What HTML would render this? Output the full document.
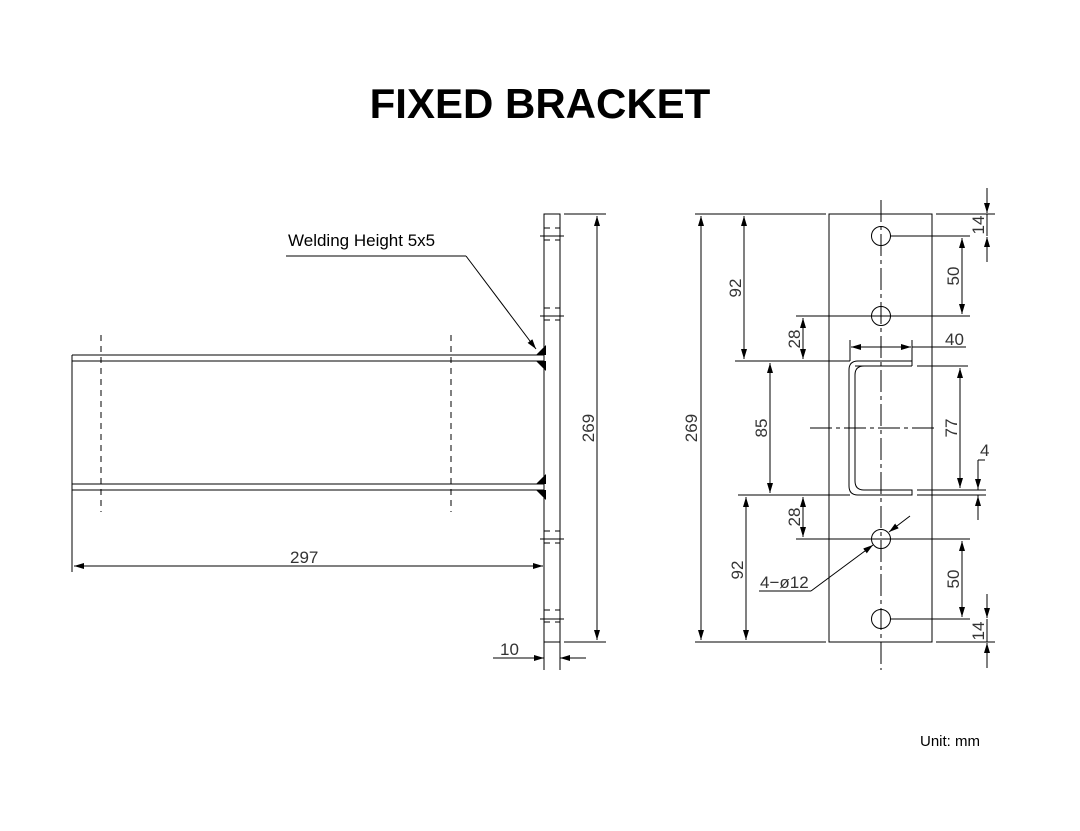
<!DOCTYPE html>
<html><head><style>
body{margin:0;background:#fff;width:1080px;height:831px;overflow:hidden}
svg{display:block}
</style></head><body>
<svg width="1080" height="831" viewBox="0 0 1080 831" xmlns="http://www.w3.org/2000/svg">
<defs>
<marker id="a" viewBox="0 0 10 6" refX="10" refY="3" markerWidth="10" markerHeight="6" orient="auto-start-reverse" markerUnits="userSpaceOnUse"><path d="M0,0L10,3L0,6z" fill="#000"/></marker>
</defs>
<text x="540" y="118" text-anchor="middle" font-family="Liberation Sans, sans-serif" font-size="42" font-weight="bold" fill="#000">FIXED BRACKET</text>
<g stroke="#000" stroke-width="1" fill="none">
<!-- left view -->
<rect x="544" y="214" width="16" height="428"/>
<path d="M72 355H544M72 361H544M72 484H544M72 490H544M72 355V490"/>
<g stroke-dasharray="6,5"><path d="M101 335V512M451 335V512M544 228H560M544 240H560M544 308H560M544 320H560M544 531H560M544 543H560M544 610H560M544 622H560"/></g>
<path d="M540 236H564M540 316H564M540 539H564M540 619H564"/>
<path d="M564 214H606M564 642H606"/>
<line x1="597" y1="216" x2="597" y2="640" marker-start="url(#a)" marker-end="url(#a)"/>
<path d="M544 642V670M560 642V670M493 658H530M574 658H586"/>
<line x1="530" y1="658" x2="544" y2="658" marker-end="url(#a)"/>
<line x1="574" y1="658" x2="560" y2="658" marker-end="url(#a)"/>
<path d="M72 490V572"/>
<line x1="74" y1="566" x2="543" y2="566" marker-start="url(#a)" marker-end="url(#a)"/>
<path d="M286 256H466"/>
<line x1="466" y1="256" x2="536" y2="349" marker-end="url(#a)"/>
<!-- right view -->
<rect x="829" y="214" width="103" height="428"/>
<g stroke-dasharray="22,4,4,4"><path d="M881 200V670M810 428H935"/></g>
<circle cx="881" cy="236" r="9.5"/><circle cx="881" cy="316" r="9.5"/><circle cx="881" cy="539" r="9.5"/><circle cx="881" cy="619" r="9.5"/>
<path d="M855 366H912M912 361H858Q849 361 849 370V486Q849 495 858 495H912V490H864Q855 490 855 481V375Q855 366 864 366M912 361V366"/>
<path d="M695 214H826M695 642H826M735 361H850M738 495H850M796 316H970M796 539H970M890 236H970M890 619H970M936 214H995M936 642H995M917 366H968M917 490H986M917 495H986M850 340V361M912 340V361M912 347H966"/>
<line x1="701" y1="216" x2="701" y2="640" marker-start="url(#a)" marker-end="url(#a)"/>
<line x1="744" y1="216" x2="744" y2="359" marker-start="url(#a)" marker-end="url(#a)"/>
<line x1="770" y1="363" x2="770" y2="493" marker-start="url(#a)" marker-end="url(#a)"/>
<line x1="746" y1="497" x2="746" y2="640" marker-start="url(#a)" marker-end="url(#a)"/>
<line x1="803" y1="318" x2="803" y2="359" marker-start="url(#a)" marker-end="url(#a)"/>
<line x1="803" y1="497" x2="803" y2="537" marker-start="url(#a)" marker-end="url(#a)"/>
<line x1="851" y1="347" x2="911" y2="347" marker-start="url(#a)" marker-end="url(#a)"/>
<line x1="960" y1="368" x2="960" y2="488" marker-start="url(#a)" marker-end="url(#a)"/>
<line x1="962" y1="238" x2="962" y2="314" marker-start="url(#a)" marker-end="url(#a)"/>
<line x1="962" y1="541" x2="962" y2="617" marker-start="url(#a)" marker-end="url(#a)"/>
<line x1="987" y1="188" x2="987" y2="213" marker-end="url(#a)"/>
<line x1="987" y1="262" x2="987" y2="237" marker-end="url(#a)"/>
<path d="M987 214V236M987 619V642"/>
<line x1="987" y1="594" x2="987" y2="618" marker-end="url(#a)"/>
<line x1="987" y1="668" x2="987" y2="643" marker-end="url(#a)"/>
<path d="M978 460H985M978 460V490M978 495V520"/>
<line x1="978" y1="470" x2="978" y2="489" marker-end="url(#a)"/>
<line x1="978" y1="515" x2="978" y2="496" marker-end="url(#a)"/>
<path d="M759 591H811"/>
<line x1="811" y1="591" x2="873" y2="545" marker-end="url(#a)"/>
<line x1="910" y1="516" x2="889" y2="532" marker-end="url(#a)"/>
</g>
<g fill="#000">
<path d="M546 345L536 355H546zM546 361L536 361L546 371zM546 474L536 484H546zM546 490L536 490L546 500z"/>
</g>
<g font-family="Liberation Sans, sans-serif" font-size="17" fill="#333">
<text x="288" y="246" fill="#000">Welding Height 5x5</text>
<text x="290" y="563">297</text>
<text x="500" y="655">10</text>
<text transform="translate(594,428) rotate(-90)" text-anchor="middle">269</text>
<text transform="translate(697,428) rotate(-90)" text-anchor="middle">269</text>
<text transform="translate(741,288) rotate(-90)" text-anchor="middle">92</text>
<text transform="translate(767,428) rotate(-90)" text-anchor="middle">85</text>
<text transform="translate(743,570) rotate(-90)" text-anchor="middle">92</text>
<text transform="translate(800,339) rotate(-90)" text-anchor="middle">28</text>
<text transform="translate(800,517) rotate(-90)" text-anchor="middle">28</text>
<text transform="translate(959,276) rotate(-90)" text-anchor="middle">50</text>
<text transform="translate(959,579) rotate(-90)" text-anchor="middle">50</text>
<text transform="translate(957,428) rotate(-90)" text-anchor="middle">77</text>
<text transform="translate(984,225) rotate(-90)" text-anchor="middle">14</text>
<text transform="translate(984,631) rotate(-90)" text-anchor="middle">14</text>
<text x="945" y="345">40</text>
<text x="980" y="456">4</text>
<text x="760" y="588">4−ø12</text>
<text x="920" y="746" font-size="15" fill="#000">Unit: mm</text>
</g>
</svg>
</body></html>
